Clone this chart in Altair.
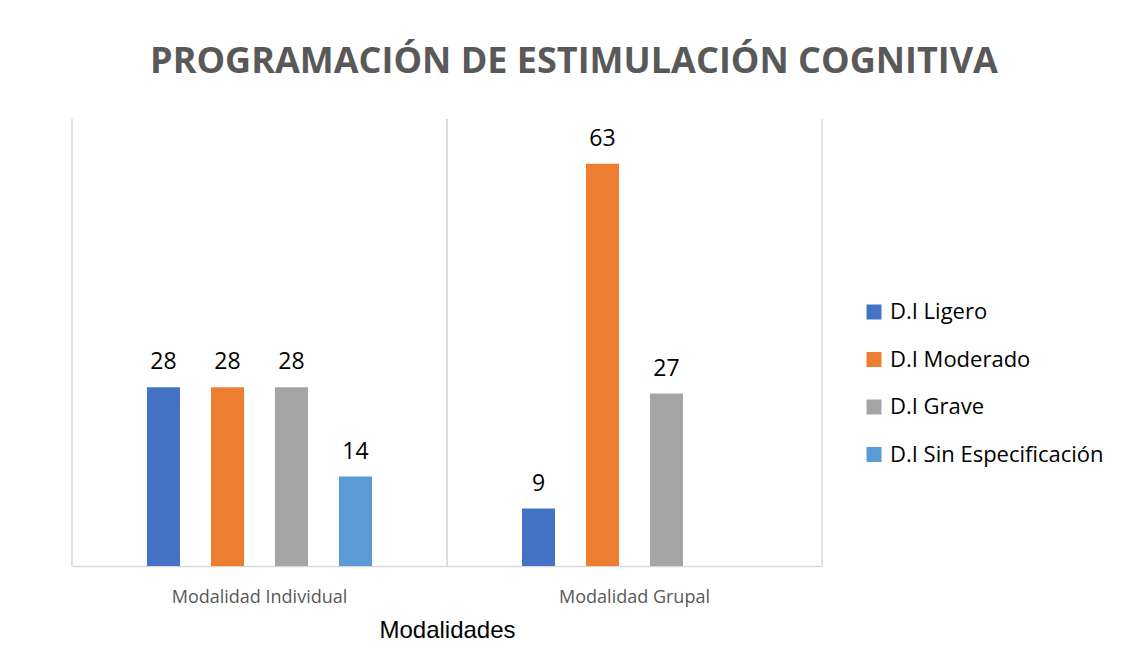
import altair as alt
import pandas as pd

modalidades = ["Modalidad Individual", "Modalidad Grupal"]
categorias = ["D.I Ligero", "D.I Moderado", "D.I Grave", "D.I Sin Especificación"]
individual = [28, 28, 28, 14]
grupal = [9, 63, 27, None]
colores = ["#4472C4", "#ED7D31", "#A5A5A5", "#5B9BD5"]

rows = []
for mod, vals in zip(modalidades, [individual, grupal]):
    for cat, v in zip(categorias, vals):
        if v is not None:
            rows.append({"modalidad": mod, "categoria": cat, "valor": v})
df = pd.DataFrame(rows)
df_mod = pd.DataFrame({"modalidad": modalidades})

x_scale_bars = alt.Scale(domain=modalidades, paddingInner=0.0587, paddingOuter=0.0293)
xo_scale = alt.Scale(domain=categorias, paddingInner=0.484, paddingOuter=1)
y_scale = alt.Scale(domain=[0, 70], nice=False)

bars = alt.Chart(df).mark_bar().encode(
    x=alt.X(
        "modalidad:N",
        sort=modalidades,
        scale=x_scale_bars,
        axis=alt.Axis(
            title="Modalidades",
            labelAngle=0,
            labelFont="Open Sans",
            labelFontSize=18,
            labelColor="#595959",
            labelBaseline="alphabetic",
            labelPadding=36,
            ticks=False,
            domainColor="#D9D9D9",
            domainWidth=1.5,
            grid=False,
            titleFont="Liberation Sans",
            titleFontSize=24,
            titleFontWeight="normal",
            titleColor="#000000",
            titleBaseline="alphabetic",
            titlePadding=31,
        ),
    ),
    xOffset=alt.XOffset("categoria:N", sort=categorias, scale=xo_scale),
    y=alt.Y(
        "valor:Q",
        scale=y_scale,
        axis=alt.Axis(
            title="Porcentajes",
            labels=False,
            ticks=False,
            domain=False,
            grid=False,
            titleFont="Liberation Sans",
            titleFontSize=24,
            titleFontWeight="normal",
            titleColor="#000000",
            titlePadding=7,
        ),
    ),
    color=alt.Color(
        "categoria:N",
        sort=categorias,
        scale=alt.Scale(domain=categorias, range=colores),
        legend=alt.Legend(
            title=None,
            orient="none",
            legendX=791,
            legendY=182,
            symbolType="square",
            symbolSize=225,
            symbolStrokeWidth=0,
            labelFont="Open Sans",
            labelFontSize=22,
            labelColor="#000000",
            labelOffset=5,
            labelLimit=400,
            rowPadding=25.5,
            padding=0,
        ),
    ),
)

labels = alt.Chart(df).mark_text(
    baseline="alphabetic", dy=-18, font="Open Sans", fontSize=23, color="#000000"
).encode(
    x=alt.X("modalidad:N", sort=modalidades, scale=x_scale_bars, axis=None),
    xOffset=alt.XOffset("categoria:N", sort=categorias, scale=xo_scale),
    y=alt.Y("valor:Q", scale=y_scale, axis=None),
    text=alt.Text("valor:Q"),
)

edge_scale = alt.Scale(domain=modalidades, paddingInner=0, paddingOuter=0)
edges_start = alt.Chart(df_mod).mark_rule(color="#D9D9D9", strokeWidth=1.5).encode(
    x=alt.X("modalidad:N", sort=modalidades, scale=edge_scale, bandPosition=0, axis=None)
)
edges_end = alt.Chart(df_mod).mark_rule(color="#D9D9D9", strokeWidth=1.5).encode(
    x=alt.X("modalidad:N", sort=modalidades, scale=edge_scale, bandPosition=1, axis=None)
)

chart = (
    alt.layer(edges_start, edges_end, bars, labels)
    .resolve_scale(x="independent")
    .properties(
        width=750,
        height=447,
        background="#FFFFFF",
        title=alt.TitleParams(
            text="PROGRAMACIÓN DE ESTIMULACIÓN COGNITIVA",
            font="Open Sans",
            fontSize=36,
            fontWeight="bold",
            color="#595959",
            anchor="middle",
            baseline="alphabetic",
            dx=127,
            offset=9,
        ),
        autosize=alt.AutoSizeParams(type="none"),
        padding={"left": 64, "top": 111, "right": 298, "bottom": 93},
    )
    .configure_view(strokeWidth=0, stroke="transparent")
)

chart.save("out.html", embed_options={"renderer": "svg", "actions": False})
